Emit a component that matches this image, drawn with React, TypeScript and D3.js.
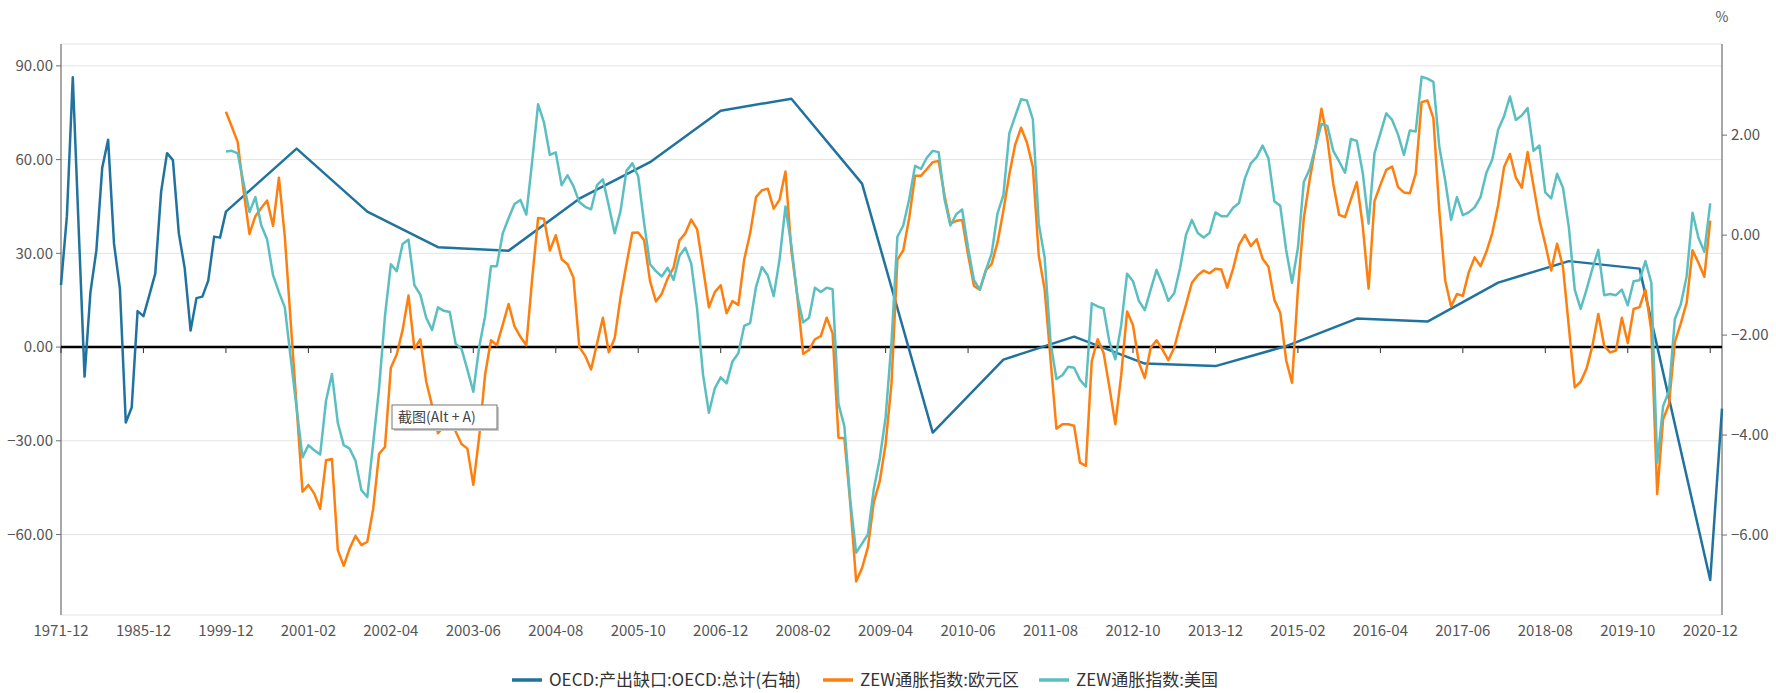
'use client'
import React, { useEffect, useRef } from 'react';
import * as d3 from 'd3';

// ---- categories on the x axis ----
const annualYears = d3.range(1971, 2000);      // one point per year (December)
const monthlyYears = d3.range(2000, 2021);     // monthly points
const tailCategories = ['2021-06', '2021-12'];

const pad = (m: number) => (m < 10 ? `0${m}` : `${m}`);
const categories: string[] = [
  ...annualYears.map(y => `${y}-12`),
  ...monthlyYears.flatMap(y => d3.range(1, 13).map(m => `${y}-${pad(m)}`)),
  ...tailCategories,
];

const tickLabels = [
  '1971-12', '1985-12', '1999-12', '2001-02', '2002-04', '2003-06', '2004-08',
  '2005-10', '2006-12', '2008-02', '2009-04', '2010-06', '2011-08', '2012-10',
  '2013-12', '2015-02', '2016-04', '2017-06', '2018-08', '2019-10', '2020-12',
];

const leftTicks = [-60, -30, 0, 30, 60, 90];
const rightTicks = [-6, -4, -2, 0, 2];

// OECD output gap, total (right axis, %), one value per year 1971-2021
const gapYears = d3.range(1971, 2022);
const outputGap = [
  -1.0, 0.38, 3.16, 0.14, -2.83, -1.14, -0.31, 1.35, 1.91, -0.17,
  -1.07, -3.75, -3.45, -1.52, -1.62, -1.2, -0.77, 0.87, 1.64, 1.5,
  0.04, -0.66, -1.91, -1.26, -1.23, -0.91, -0.03, -0.05, 0.47, 1.73,
  0.47, -0.24, -0.31, 0.73, 1.46, 2.49, 2.73, 1.03, -3.95, -2.49,
  -2.03, -2.57, -2.62, -2.22, -1.67, -1.73, -0.95, -0.52, -0.67, -6.9,
  -3.47,
];

// ZEW inflation index, monthly from 1999-12 to 2020-12
const zewStart = '1999-12';
const zewEuro = [
  75.3, 70.5, 65.6, 50, 36.2, 41.9, 44.5, 46.9, 38.8, 54.2,
  35.3, 8, -19, -46.3, -44.1, -46.9, -51.8, -36.2, -35.8, -65,
  -70, -64.5, -60.4, -63.4, -62.3, -51.8, -34.2, -32, -6.6, -2.4,
  5.5, 16.5, -0.6, 2.5, -11, -18.7, -27.6, -25.4, -23, -27,
  -31, -32.5, -44.1, -28.7, -8.8, 2.2, 0.6, 7.2, 13.8, 6.6,
  3.3, 0.6, 22, 41.3, 41.1, 30.9, 35.8, 28.1, 26.5, 22.3,
  0, -2.8, -7.2, 1.1, 9.4, -1.7, 2.8, 16, 26.5, 36.6,
  36.7, 34.2, 21.2, 14.6, 17.1, 22, 25.4, 34.2, 36.4, 40.8,
  37.7, 25.4, 12.7, 17.6, 19.8, 10.8, 14.7, 13.5, 28.1, 36.4,
  48, 50.2, 50.7, 44.3, 47.2, 56.2, 30.9, 16.5, -2.2, -0.9,
  2.5, 3.5, 9.4, 4.4, -29, -29.2, -50, -75, -70.7, -64,
  -49.6, -43, -31, -11.7, 28, 31, 41.3, 54.8, 54.8, 57,
  59.2, 59.6, 48.6, 39.5, 40.4, 40.7, 29.5, 19.6, 18.4, 24.5,
  26.6, 33.5, 43.7, 55.2, 64.8, 70.2, 65.4, 57.6, 29.3, 18.4,
  -3.9, -26.1, -24.7, -24.7, -25.2, -37, -38, -4.5, 2.5, -1.8,
  -12.9, -24.7, -9, 11.4, 7, -5, -9.9, -0.2, 2.2, -0.8,
  -4.2, -0.2, 7, 13.6, 20.6, 23, 24.5, 23.6, 25.1, 24.8,
  19, 25.1, 32.7, 35.9, 32.3, 34.5, 28.3, 25.7, 15.1, 11,
  -4.2, -11.4, 18.4, 41.3, 53.6, 64.2, 76.3, 66.6, 52.2, 42.3,
  41.6, 47.3, 52.8, 38.9, 18.7, 46.7, 51.9, 56.7, 57.8, 51.2,
  49.5, 49.2, 55.5, 78.4, 78.9, 73.3, 43.7, 21.4, 13, 17,
  16.4, 23.9, 28.7, 25.9, 30.5, 36.5, 45.5, 57.6, 61.8, 54.2,
  51, 62.4, 51.6, 40.7, 32.9, 24.5, 33.1, 25.7, 6.4, -12.9,
  -11.1, -6.9, 0.4, 10.6, 0.4, -1.7, -1.1, 9.4, 1.3, 12.2,
  12.8, 18.4, 5.2, -47, -23.1, -18.3, 1.6, 7.6, 14.2, 31,
  27, 22.5, 40.5,
];
const zewUS = [
  62.6, 62.8, 62, 52.5, 43.2, 48, 39, 34.4, 23, 17.6,
  12.7, -3.5, -19.5, -35.3, -31.4, -33, -34.4, -17.1, -8.6, -24.3,
  -31.4, -32.5, -36.4, -45.8, -48, -30.9, -13.2, 9.9, 26.5, 24.3,
  33, 34.4, 19.8, 16.8, 9.4, 5.5, 12.7, 11.6, 11.2, 1.1,
  -0.6, -7.2, -14.3, 0, 9.9, 25.9, 25.9, 36.4, 41.3, 45.8,
  47.1, 42.4, 59.5, 77.7, 71.9, 61.5, 62.3, 51.8, 55, 51.5,
  46.4, 44.9, 44.1, 51.8, 53.7, 45.2, 36.4, 43.6, 56.4, 58.8,
  54.6, 39.7, 26.5, 24.3, 22.6, 25.4, 21.5, 29.2, 31.8, 26.7,
  12.1, -8.8, -21, -13.2, -9.7, -11.6, -4.6, -2, 6.8, 7.7,
  19.3, 25.6, 22.9, 16.3, 28.1, 45, 32.5, 16.5, 7.9, 9.4,
  19, 17.6, 19, 18.5, -18.2, -25.4, -49, -65.8, -62.9, -59.9,
  -45.4, -35.8, -22.5, 1.6, 35.3, 38.9, 47.3, 58, 57, 60.6,
  62.8, 62.4, 47.3, 38.9, 42.5, 44, 31.7, 21.4, 18.4, 24.5,
  29.9, 42.8, 48.6, 68.4, 73.9, 79.3, 78.9, 72.9, 39.5, 28.7,
  1.6, -10.2, -9, -6.3, -6.6, -10.5, -12.7, 14, 13, 12.4,
  1.6, -3.9, 7, 23.5, 21.1, 14.8, 11.8, 18.4, 24.7, 20.2,
  14.8, 17.2, 25.4, 35.9, 40.7, 36.5, 35.1, 36.5, 43.1, 41.9,
  41.9, 44.6, 46.1, 54, 58.8, 60.8, 64.5, 60.4, 46.7, 45.2,
  31.1, 20.6, 31.7, 52.8, 57, 64.2, 71.4, 70.8, 62.8, 59.4,
  55.8, 66.6, 66, 55.8, 39.5, 62, 68.4, 74.8, 72.7, 68,
  61.5, 69.3, 69, 86.5, 85.9, 84.9, 64.2, 53.4, 40.7, 48,
  42.2, 43.1, 44.7, 48, 55.8, 60, 69.6, 73.9, 80.2, 72.7,
  74.1, 76.5, 62.8, 64.5, 49.5, 47.6, 55.5, 51, 38.3, 18.4,
  12.2, 18.4, 25.1, 31.1, 16.6, 17, 16.6, 18.4, 13.4, 21.1,
  21.4, 27.5, 20.6, -37, -18.9, -14.1, 9, 13.6, 22.7, 43,
  35, 30.5, 46,
];

const seriesNames = ['OECD:产出缺口:OECD:总计(右轴)', 'ZEW通胀指数:欧元区', 'ZEW通胀指数:美国'];
const seriesColors = ['#21739f', '#ff7f0e', '#5bbfc1'];

const FONT = "'Microsoft YaHei', 'Noto Sans CJK SC', 'Noto Sans', sans-serif";

const App = () => {
  const chartRef = useRef<SVGSVGElement>(null);

  useEffect(() => {
    if (chartRef.current) drawChart();
  }, []);

  const drawChart = () => {
    const svg = d3.select(chartRef.current);
    svg.selectAll('*').remove();

    const W = 1776;
    const H = 693;
    const plot = { left: 61, right: 1722, top: 44, bottom: 615 };

    svg.attr('width', W).attr('height', H).style('font-family', FONT);
    svg.append('rect').attr('width', W).attr('height', H).attr('fill', '#fff');

    const x = d3.scalePoint<string>().domain(categories).range([plot.left, plot.right]);
    const yL = d3.scaleLinear().domain([-85.75, 97]).range([plot.bottom, plot.top]);
    const yR = d3.scaleLinear().domain([-7.6, 3.824]).range([plot.bottom, plot.top]);

    // grid lines
    const grid = svg.append('g');
    [...leftTicks.filter(t => t !== 0).map(t => yL(t)), plot.top, plot.bottom].forEach(y => {
      grid.append('line')
        .attr('x1', plot.left).attr('x2', plot.right)
        .attr('y1', y).attr('y2', y)
        .attr('stroke', '#e3e3e3').attr('stroke-width', 1);
    });

    // left axis
    const left = svg.append('g').attr('transform', `translate(${plot.left},0)`);
    left.append('line').attr('y1', plot.top).attr('y2', plot.bottom)
      .attr('stroke', '#6e6e6e').attr('stroke-width', 1.2);
    leftTicks.forEach(t => {
      left.append('line').attr('x1', -5).attr('x2', 0).attr('y1', yL(t)).attr('y2', yL(t))
        .attr('stroke', '#6e6e6e');
      left.append('text').attr('x', -8).attr('y', yL(t)).attr('dy', '0.35em')
        .attr('text-anchor', 'end').attr('fill', '#555').style('font-size', '15px')
        .text(d3.format('.2f')(t));
    });

    // right axis
    const right = svg.append('g').attr('transform', `translate(${plot.right},0)`);
    right.append('line').attr('y1', plot.top).attr('y2', plot.bottom)
      .attr('stroke', '#6e6e6e').attr('stroke-width', 1.2);
    rightTicks.forEach(t => {
      right.append('line').attr('x1', 0).attr('x2', 5).attr('y1', yR(t)).attr('y2', yR(t))
        .attr('stroke', '#6e6e6e');
      right.append('text').attr('x', 9).attr('y', yR(t)).attr('dy', '0.35em')
        .attr('text-anchor', 'start').attr('fill', '#555').style('font-size', '15px')
        .text(d3.format('.2f')(t));
    });
    right.append('text').attr('x', 0).attr('y', 17).attr('dy', '0.35em')
      .attr('text-anchor', 'middle').attr('fill', '#555').style('font-size', '14px').text('%');

    // x axis on the zero line
    const zeroY = yL(0);
    svg.append('line').attr('x1', plot.left).attr('x2', plot.right)
      .attr('y1', zeroY).attr('y2', zeroY).attr('stroke', '#000').attr('stroke-width', 2.5);
    tickLabels.forEach(lbl => {
      const tx = x(lbl) || 0;
      svg.append('line').attr('x1', tx).attr('x2', tx).attr('y1', zeroY).attr('y2', zeroY + 6)
        .attr('stroke', '#333').attr('stroke-width', 1);
      svg.append('text').attr('x', tx).attr('y', 631).attr('dy', '0.35em')
        .attr('text-anchor', 'middle').attr('fill', '#555').style('font-size', '15px')
        .text(lbl);
    });

    // series
    const line = (yScale: d3.ScaleLinear<number, number>) =>
      d3.line<[string, number]>()
        .x(d => x(d[0]) || 0)
        .y(d => yScale(d[1]));

    const startIdx = categories.indexOf(zewStart);
    const zewDates = categories.slice(startIdx, startIdx + zewEuro.length);

    const gapData: [string, number][] = gapYears.map((yr, i) => [`${yr}-12`, outputGap[i]]);
    const euroData: [string, number][] = zewDates.map((c, i) => [c, zewEuro[i]]);
    const usData: [string, number][] = zewDates.map((c, i) => [c, zewUS[i]]);

    const lines: [[string, number][], d3.ScaleLinear<number, number>, string][] = [
      [gapData, yR, seriesColors[0]],
      [euroData, yL, seriesColors[1]],
      [usData, yL, seriesColors[2]],
    ];
    lines.forEach(([data, scale, color]) => {
      svg.append('path')
        .datum(data)
        .attr('d', line(scale))
        .attr('fill', 'none')
        .attr('stroke', color)
        .attr('stroke-width', 2.5)
        .attr('stroke-linejoin', 'round');
    });

    // legend, items placed as in the original layout
    const legendX = [512, 823, 1039];
    const iconW = 30;
    const iconGap = 7;
    seriesNames.forEach((name, i) => {
      const g = svg.append('g').attr('transform', `translate(${legendX[i]},680)`);
      g.append('line').attr('x1', 0).attr('x2', iconW).attr('y1', 0).attr('y2', 0)
        .attr('stroke', seriesColors[i]).attr('stroke-width', 3.5);
      g.append('text').attr('x', iconW + iconGap).attr('y', 0).attr('dy', '0.35em')
        .attr('fill', '#333').style('font-size', '17px').text(name);
    });

    // screenshot hint box that sits over the chart
    const tip = svg.append('g').attr('transform', 'translate(392,405)');
    tip.append('rect').attr('x', 2).attr('y', 2).attr('width', 105).attr('height', 24)
      .attr('fill', '#c8c8c8');
    tip.append('rect').attr('width', 105).attr('height', 24)
      .attr('fill', '#fff').attr('stroke', '#767676').attr('stroke-width', 1);
    tip.append('text').attr('x', 6).attr('y', 12).attr('dy', '0.35em')
      .attr('fill', '#444').style('font-size', '14px').text('截图(Alt + A)');
  };

  return (
    <svg
      ref={chartRef}
      style={{ position: 'absolute', left: 0, top: 0, display: 'block' }}
    />
  );
};

export default App;
